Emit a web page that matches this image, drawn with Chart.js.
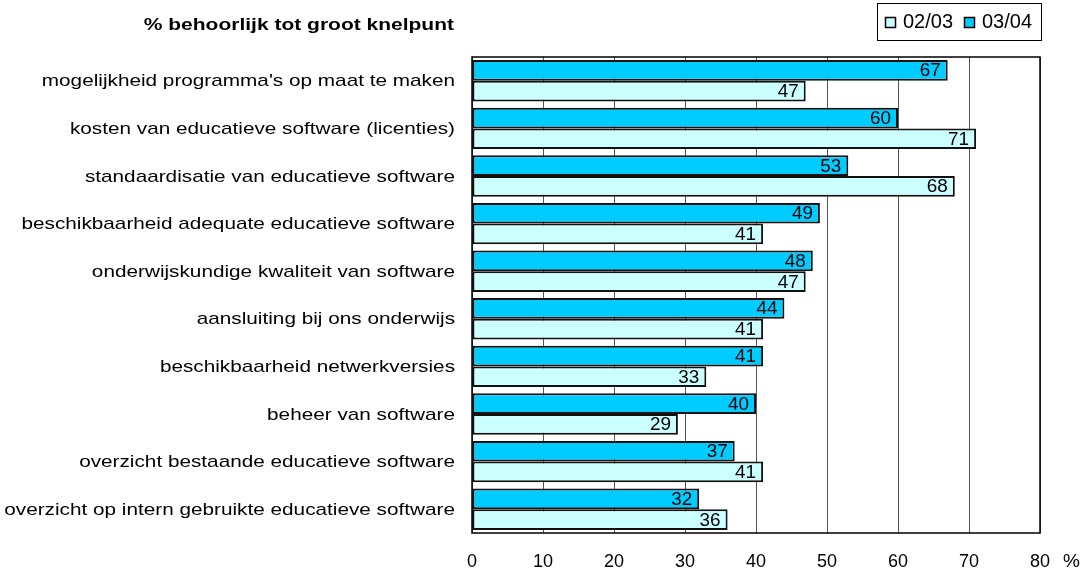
<!DOCTYPE html>
<html>
<head>
<meta charset="utf-8">
<script src="https://cdn.jsdelivr.net/npm/chart.js@4.4.1/dist/chart.umd.min.js"></script>
<style>
  html, body { margin: 0; padding: 0; background: #fff; }
  #wrap { width: 1086px; height: 573px; }
</style>
</head>
<body>
<div id="wrap"><canvas id="knelpuntChart"></canvas></div>
<script>
// categorieën
const categories = [
  "mogelijkheid programma's op maat te maken",
  'kosten van educatieve software (licenties)',
  'standaardisatie van educatieve software',
  'beschikbaarheid adequate educatieve software',
  'onderwijskundige kwaliteit van software',
  'aansluiting bij ons onderwijs',
  'beschikbaarheid netwerkversies',
  'beheer van software',
  'overzicht bestaande educatieve software',
  'overzicht op intern gebruikte educatieve software'
];
const values0304 = [67, 60, 53, 49, 48, 44, 41, 40, 37, 32];
const values0203 = [47, 71, 68, 41, 47, 41, 33, 29, 41, 36];
const xTicks = [0, 10, 20, 30, 40, 50, 60, 70, 80];

const FONT = '"Liberation Sans", Arial, sans-serif';

// tekst iets breder getrokken, zoals in het origineel
function wideText(ctx, text, x, y, stretch) {
  ctx.save();
  ctx.translate(x, y);
  ctx.scale(stretch, 1);
  ctx.fillText(text, 0, 0);
  ctx.restore();
}

const extras = {
  id: 'extras',
  afterDatasetsDraw(chart) {
    const ctx = chart.ctx;
    ctx.save();

    // waarden in de balken
    ctx.font = '18px ' + FONT;
    ctx.fillStyle = '#000';
    ctx.textAlign = 'right';
    ctx.textBaseline = 'middle';
    chart.data.datasets.forEach((ds, i) => {
      chart.getDatasetMeta(i).data.forEach((bar, j) => {
        wideText(ctx, String(ds.data[j]), bar.x - 7, bar.y + 1, 1.05);
      });
    });

    // kader rond plotgebied
    const a = chart.chartArea;
    ctx.strokeStyle = '#000';
    ctx.lineWidth = 1.5;
    ctx.strokeRect(Math.round(a.left), Math.round(a.top),
      Math.round(a.right - a.left), Math.round(a.bottom - a.top));

    // categorie-labels
    const yScale = chart.scales.y;
    ctx.font = '17px ' + FONT;
    ctx.textAlign = 'right';
    categories.forEach((c, i) => {
      wideText(ctx, c, 455, yScale.getPixelForTick(i) + 1, 1.22);
    });

    // titel
    ctx.font = 'bold 17px ' + FONT;
    wideText(ctx, '% behoorlijk tot groot knelpunt', 454, 25, 1.235);

    // % achter de x-as
    ctx.font = '19px ' + FONT;
    ctx.textAlign = 'left';
    ctx.fillText('%', 1063, 562);

    // legenda
    ctx.lineWidth = 1;
    ctx.strokeStyle = '#000';
    ctx.strokeRect(877.5, 3.5, 164, 37);
    const items = [
      { text: '02/03', color: '#CCFFFF', x: 885 },
      { text: '03/04', color: '#00CCFF', x: 964 }
    ];
    ctx.font = '20px ' + FONT;
    items.forEach(it => {
      ctx.fillStyle = it.color;
      ctx.fillRect(it.x + 0.5, 17.5, 10, 10);
      ctx.lineWidth = 1.5;
      ctx.strokeRect(it.x + 0.5, 17.5, 10, 10);
      ctx.fillStyle = '#000';
      ctx.textAlign = 'left';
      ctx.fillText(it.text, it.x + 18, 22);
    });
    ctx.restore();
  }
};

new Chart(document.getElementById('knelpuntChart'), {
  type: 'bar',
  data: {
    labels: categories,
    datasets: [
      {
        label: '03/04',
        data: values0304,
        backgroundColor: '#00CCFF',
        borderColor: '#111',
        borderWidth: 2,
        borderSkipped: false
      },
      {
        label: '02/03',
        data: values0203,
        backgroundColor: '#CCFFFF',
        borderColor: '#111',
        borderWidth: 2,
        borderSkipped: false
      }
    ]
  },
  options: {
    indexAxis: 'y',
    responsive: true,
    maintainAspectRatio: false,
    animation: false,
    layout: { padding: { top: 57, right: 46, left: 0, bottom: 0 } },
    datasets: { bar: { categoryPercentage: 0.87, barPercentage: 1.0 } },
    plugins: {
      legend: { display: false },
      tooltip: { enabled: false },
      title: { display: false }
    },
    scales: {
      x: {
        min: 0,
        max: 80,
        afterBuildTicks(scale) { scale.ticks = xTicks.map(v => ({ value: v })); },
        afterFit(scale) { scale.height = 40; },
        grid: { color: '#555', lineWidth: 1, drawTicks: false },
        border: { display: false },
        ticks: { color: '#000', font: { family: FONT, size: 18 }, padding: 18 }
      },
      y: {
        afterFit(scale) { scale.width = 472; },
        grid: { display: false, drawTicks: false },
        border: { display: false },
        ticks: { display: false }
      }
    }
  },
  plugins: [extras]
});
</script>
</body>
</html>
